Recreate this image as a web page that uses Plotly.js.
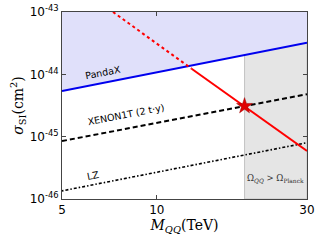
<!DOCTYPE html>
<html><head><meta charset="utf-8">
<script src="https://cdn.plot.ly/plotly-3.0.1.min.js"></script>
<style>html,body{margin:0;padding:0;background:#fff}#c{width:320px;height:240px}</style>
</head><body><div id="c"></div>
<script>
// ---- data ----
const xRange = [5, 30];
const yRange = [1e-46, 1e-43];
const pandaxM = [5, 30];
const pandaxS = [5.4e-45, 3.2e-44];
const xenonM = [5, 30];
const xenonS = [8.5e-46, 4.8e-45];
const lzM = [5, 30];
const lzS = [1.35e-46, 8.0e-46];
const relicDottedM = [7.26, 12.9];
const relicDottedS = [1e-43, 1.23e-44];
const relicSolidM = [12.9, 30];
const relicSolidS = [1.23e-44, 5.9e-46];
const starM = [19];
const starS = [3.1e-45];
const overM = 19; // Omega_QQ > Omega_Planck above this mass
const xTickVals = [5, 10, 30];
const xTickText = ['5', '10', '30'];
const xMinor = [6, 7, 8, 9, 20];
const yTickVals = [1e-46, 1e-45, 1e-44, 1e-43];
const yTickText = ['10<sup>-46</sup>', '10<sup>-45</sup>', '10<sup>-44</sup>', '10<sup>-43</sup>'];
const yMinor = [];
for (let e = -46; e < -43; e++) for (let k = 2; k <= 9; k++) yMinor.push(k * Math.pow(10, e));

const L = Math.log10;
const traces = [
  { // gray excluded region
    x: [overM, xRange[1], xRange[1], overM, overM],
    y: [yRange[0], yRange[0], yRange[1], yRange[1], yRange[0]],
    fill: 'toself', fillcolor: '#e5e5e5', mode: 'lines',
    line: {color: '#c4c4c4', width: 1}, hoverinfo: 'skip'
  },
  { // PandaX excluded region
    x: [pandaxM[0], pandaxM[1], xRange[1], xRange[0], pandaxM[0]],
    y: [pandaxS[0], pandaxS[1], yRange[1], yRange[1], pandaxS[0]],
    fill: 'toself', fillcolor: '#e0e0fa', mode: 'none', hoverinfo: 'skip'
  },
  {x: lzM, y: lzS, mode: 'lines', line: {color: '#000', width: 1.6, dash: '1.5px,2px,3px,2px'}},
  {x: xenonM, y: xenonS, mode: 'lines', line: {color: '#000', width: 2, dash: '5px,3px'}},
  {x: pandaxM, y: pandaxS, mode: 'lines', line: {color: '#0000ee', width: 2}},
  {x: relicDottedM, y: relicDottedS, mode: 'lines', line: {color: '#ff0000', width: 2, dash: '3px,3px'}},
  {x: relicSolidM, y: relicSolidS, mode: 'lines', line: {color: '#ff0000', width: 2}},
  {x: starM, y: starS, mode: 'markers', marker: {symbol: 'star', size: 12, color: '#e00000', line: {color: '#900', width: 0.5}}}
];

const tickFont = {family: 'DejaVu Sans', size: 12, color: '#000'};
const lblFont = {family: 'DejaVu Sans', size: 9.5, color: '#000'};
const layout = {
  width: 320, height: 240,
  margin: {l: 62, r: 13, t: 12, b: 41},
  paper_bgcolor: '#fff', plot_bgcolor: '#fff',
  showlegend: false,
  xaxis: {
    type: 'log', range: [L(xRange[0]), L(xRange[1])],
    tickvals: xTickVals, ticktext: xTickText, tickfont: tickFont,
    ticks: 'inside', ticklen: 4, tickcolor: '#444', mirror: 'allticks',
    showline: true, linecolor: '#444', linewidth: 1, showgrid: false, zeroline: false,
    title: {text: '<i>M</i><sub><i>QQ</i></sub>(TeV)', font: {family: 'DejaVu Serif', size: 14, color: '#000'}, standoff: 3}
  },
  yaxis: {
    type: 'log', range: [L(yRange[0]), L(yRange[1])],
    tickvals: yTickVals, ticktext: yTickText, tickfont: tickFont,
    ticks: 'inside', ticklen: 4, tickcolor: '#444', mirror: 'allticks',
    showline: true, linecolor: '#444', linewidth: 1, showgrid: false, zeroline: false,
    title: {text: '<i>σ</i><sub>SI</sub>(cm<sup>2</sup>)', font: {family: 'DejaVu Serif', size: 14, color: '#000'}, standoff: 2}
  },
  xaxis2: {
    type: 'log', overlaying: 'x', range: [L(xRange[0]), L(xRange[1])],
    tickvals: xMinor, showticklabels: false, ticks: 'inside', ticklen: 2,
    tickcolor: '#444', mirror: 'allticks', showline: false, showgrid: false, zeroline: false
  },
  yaxis2: {
    type: 'log', overlaying: 'y', range: [L(yRange[0]), L(yRange[1])],
    tickvals: yMinor, showticklabels: false, ticks: 'inside', ticklen: 2,
    tickcolor: '#444', mirror: 'allticks', showline: false, showgrid: false, zeroline: false
  },
  annotations: [
    {xref: 'paper', yref: 'paper', x: 0.167, y: 0.675, xanchor: 'center', yanchor: 'middle',
     text: 'PandaX', showarrow: false, textangle: -11, font: lblFont},
    {xref: 'paper', yref: 'paper', x: 0.26, y: 0.452, xanchor: 'center', yanchor: 'middle',
     text: 'XENON1T (2 t·y)', showarrow: false, textangle: -11, font: lblFont},
    {xref: 'paper', yref: 'paper', x: 0.127, y: 0.125, xanchor: 'center', yanchor: 'middle',
     text: 'LZ', showarrow: false, textangle: -11, font: lblFont},
    {xref: 'paper', yref: 'paper', x: 0.873, y: 0.112, xanchor: 'center', yanchor: 'middle',
     text: 'Ω<sub><i>QQ</i></sub> > Ω<sub>Planck</sub>', showarrow: false,
     font: {family: 'DejaVu Serif', size: 8.5, color: '#333'}}
  ]
};
Plotly.newPlot('c', traces, layout, {staticPlot: true, displayModeBar: false});
</script></body></html>
